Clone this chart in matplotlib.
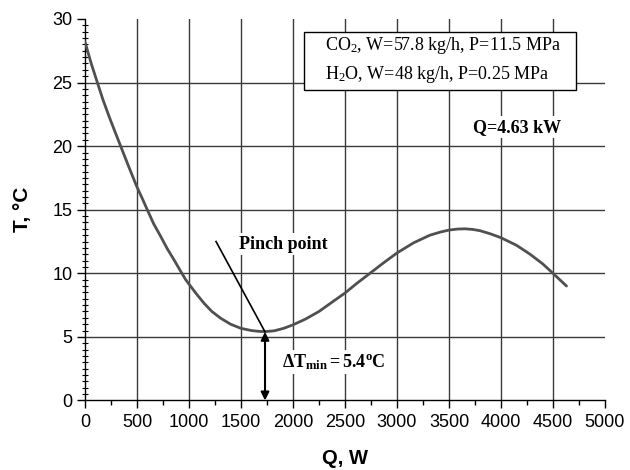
import matplotlib
matplotlib.use("Agg")
import matplotlib.pyplot as plt
from matplotlib.patches import Rectangle
from matplotlib.ticker import MultipleLocator

# ---- data ----
Q_vals = [0, 60, 119, 175, 231, 290, 343, 420, 497, 550, 599, 660, 728, 790, 856, 910,
          968, 1000, 1070, 1144, 1220, 1304, 1400, 1497, 1600, 1680, 1737, 1820, 1913,
          2000, 2120, 2250, 2370, 2500, 2620, 2740, 2870, 3000, 3160, 3317,
          3420, 3500, 3580, 3654, 3730, 3800, 3900, 4000, 4150, 4280, 4400, 4500, 4630]
T_vals = [28.2, 26.5, 25.0, 23.6, 22.35, 21.1, 20.0, 18.4, 16.84, 15.9, 15.0, 13.9, 12.9, 11.95, 11.06, 10.3,
          9.5, 9.15, 8.4, 7.65, 7.0, 6.47, 6.0, 5.68, 5.5, 5.43, 5.42, 5.48, 5.68,
          5.95, 6.4, 7.0, 7.7, 8.45, 9.25, 10.0, 10.82, 11.6, 12.4, 13.0,
          13.25, 13.4, 13.48, 13.5, 13.45, 13.35, 13.1, 12.8, 12.2, 11.5, 10.75, 10.0, 9.0]

x_ticks = [0, 500, 1000, 1500, 2000, 2500, 3000, 3500, 4000, 4500, 5000]
y_ticks = [0, 5, 10, 15, 20, 25, 30]
x_grid = [500, 1000, 1500, 2000, 2500, 3000, 3500, 4000, 4500]
y_grid = [5, 10, 15, 20, 25]

pinch_Q = 1731
pinch_T = 5.4
pinch_label_from = (1260, 12.5)

legend_lines = [r"CO$_2$, W=57.8 kg/h, P=11.5 MPa", r"H$_2$O, W=48 kg/h, P=0.25 MPa"]
q_total = "Q=4.63 kW"
dt_label = r"$\mathbf{ΔT_{min} = 5.4^{o}C}$"

plt.rcParams['font.family'] = ['Liberation Sans', 'DejaVu Sans']
plt.rcParams['mathtext.fontset'] = 'custom'
plt.rcParams['mathtext.rm'] = 'Liberation Serif'
plt.rcParams['mathtext.bf'] = 'Liberation Serif:bold'
plt.rcParams['mathtext.it'] = 'Liberation Serif:italic'

fig = plt.figure(figsize=(6.3, 4.7), dpi=100)
ax = fig.add_axes([0.1349, 0.1479, 0.8254, 0.8117])

ax.set_xlim(0, 5000)
ax.set_ylim(0, 30)

for xg in x_grid:
    ax.axvline(xg, color='#3a3a3a', lw=1.0, zorder=1)
for yg in y_grid:
    ax.axhline(yg, color='#3a3a3a', lw=1.0, zorder=1)

ax.plot(Q_vals, T_vals, color='#505050', lw=2.0, zorder=3,
        solid_capstyle='round', solid_joinstyle='round')

for s in ['top', 'right']:
    ax.spines[s].set_visible(False)
for s in ['left', 'bottom']:
    ax.spines[s].set_linewidth(1.0)
    ax.spines[s].set_color('black')

ax.set_xticks(x_ticks)
ax.set_yticks(y_ticks)
ax.xaxis.set_minor_locator(MultipleLocator(250))
ax.yaxis.set_minor_locator(MultipleLocator(0.5))
ax.tick_params(axis='x', which='major', direction='out', length=6, width=1.0, labelsize=13, pad=4)
ax.tick_params(axis='x', which='minor', direction='out', length=3.5, width=1.0)
ax.tick_params(axis='y', which='major', direction='out', length=6, width=1.0, labelsize=13, pad=3)
ax.tick_params(axis='y', which='minor', direction='inout', length=5, width=0.8)

ax.set_xlabel("Q, W", fontsize=14.5, fontweight='bold', labelpad=13)
ax.set_ylabel("T, °C", fontsize=15, fontweight='bold', labelpad=15)

# legend-like box
rect = Rectangle((2106, 24.45), 4721 - 2106, 29.0 - 24.45, facecolor='white',
                 edgecolor='black', lw=1.0, zorder=4, clip_on=False)
ax.add_patch(rect)
ax.text(2308, 27.55, legend_lines[0], fontsize=13, family='Liberation Serif', va='baseline', ha='left', zorder=5)
ax.text(2308, 25.3, legend_lines[1], fontsize=13, family='Liberation Serif', va='baseline', ha='left', zorder=5)

ax.text(4154, 21.5, q_total, fontsize=13, family='Liberation Serif', fontweight='bold',
        ha='center', va='center', zorder=5,
        bbox=dict(facecolor='white', edgecolor='none', pad=1.5))

ax.text(1904, 12.3, "Pinch point", fontsize=13, family='Liberation Serif', fontweight='bold',
        ha='center', va='center', zorder=5,
        bbox=dict(facecolor='white', edgecolor='none', pad=1.5))

ax.plot([pinch_label_from[0], pinch_Q], [pinch_label_from[1], pinch_T], color='black', lw=1.2, zorder=5)

ax.annotate("", xy=(pinch_Q, 0), xytext=(pinch_Q, pinch_T),
            arrowprops=dict(arrowstyle='<|-|>', color='black', lw=1.5, mutation_scale=12,
                            shrinkA=0, shrinkB=0), zorder=6)

ax.text(1894, 2.64, dt_label, fontsize=13, ha='left', va='baseline', zorder=5,
        bbox=dict(facecolor='white', edgecolor='none', pad=1.5))

fig.savefig("out.png", dpi=100)
